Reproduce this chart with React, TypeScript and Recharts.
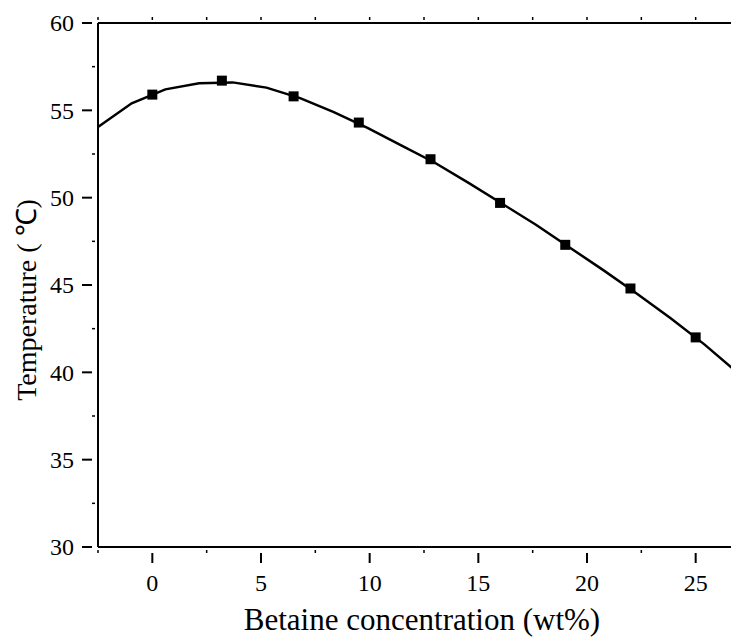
import React from "react";
import { ComposedChart, Line, Scatter, XAxis, YAxis, Label } from "recharts";

// Measured points (betaine wt%, temperature °C)
const pointX = [0, 3.2, 6.5, 9.5, 12.8, 16, 19, 22, 25];
const pointY = [55.9, 56.7, 55.8, 54.3, 52.2, 49.7, 47.3, 44.8, 42.0];

// Fitted curve
const curveX = [-2.5, -0.95, 0.6, 2.15, 3.7, 5.25, 6.8, 8.35, 9.9, 11.45, 13, 14.55, 16.1, 17.65, 19.2, 20.75, 22.3, 23.85, 25.4, 26.95, 27.5];
const curveY = [54.05, 55.4, 56.2, 56.55, 56.6, 56.3, 55.7, 54.9, 54.0, 53.0, 52.0, 50.85, 49.65, 48.45, 47.15, 45.85, 44.5, 43.1, 41.6, 39.95, 39.35];

const xTicks = [-2.5, 0, 2.5, 5, 7.5, 10, 12.5, 15, 17.5, 20, 22.5, 25, 27.5];
const yTicks = [30, 32.5, 35, 37.5, 40, 42.5, 45, 47.5, 50, 52.5, 55, 57.5, 60];

const xTitle = "Betaine concentration (wt%)";
const yTitle = "Temperature ( \u2103)";

const points = pointX.map((x, i) => ({ x, y: pointY[i] }));
const curve = curveX.map((x, i) => ({ x, y: curveY[i] }));

const FONT = "'Liberation Serif', 'Times New Roman', serif";
const tickTextStyle = { fontSize: 24, fontFamily: FONT };

const BottomTick = (props: any) => {
  const { x, y, payload } = props;
  const v = payload.value;
  const major = Math.abs(v % 5) < 1e-9;
  if (major) {
    return (
      <g>
        <line x1={x} x2={x} y1={y} y2={y + 10} stroke="#000" strokeWidth={2} />
        <text x={x} y={y + 38} textAnchor="middle" style={tickTextStyle} fill="#000">
          {v}
        </text>
      </g>
    );
  }
  return <line x1={x} x2={x} y1={y} y2={y - 3} stroke="#000" strokeWidth={1.5} />;
};

const TopTick = (props: any) => {
  const { x, y } = props;
  return <line x1={x} x2={x} y1={y} y2={y + 3} stroke="#000" strokeWidth={1.5} />;
};

const LeftTick = (props: any) => {
  const { x, y, payload } = props;
  const v = payload.value;
  const major = Math.abs(v % 5) < 1e-9;
  if (major) {
    return (
      <g>
        <line x1={x - 10} x2={x} y1={y} y2={y} stroke="#000" strokeWidth={2} />
        <text x={x - 18} y={y} dy="0.35em" textAnchor="end" style={tickTextStyle} fill="#000">
          {v}
        </text>
      </g>
    );
  }
  return <line x1={x} x2={x + 3} y1={y} y2={y} stroke="#000" strokeWidth={1.5} />;
};

const SquareDot = (props: any) => {
  const { cx, cy } = props;
  return <rect x={cx - 5} y={cy - 5} width={10} height={10} fill="#000" />;
};

export default function App() {
  return (
    <div style={{ width: 731, height: 630, overflow: "hidden" }}>
      <ComposedChart width={742} height={630} margin={{ top: 0, right: 0, bottom: 0, left: 0 }}>
        <XAxis
          xAxisId="t"
          orientation="top"
          type="number"
          dataKey="x"
          domain={[-2.5, 27.5]}
          ticks={xTicks}
          interval={0}
          allowDataOverflow
          height={15}
          tickLine={false}
          tickMargin={0}
          tick={<TopTick />}
          axisLine={{ stroke: "#000", strokeWidth: 2 }}
        />
        <XAxis
          xAxisId="b"
          orientation="bottom"
          type="number"
          dataKey="x"
          domain={[-2.5, 27.5]}
          ticks={xTicks}
          interval={0}
          allowDataOverflow
          height={91}
          tickLine={false}
          tickMargin={0}
          tick={<BottomTick />}
          axisLine={{ stroke: "#000", strokeWidth: 2 }}
        >
          <Label
            content={() => (
              <text x={414} y={622} textAnchor="middle" style={{ fontSize: 31, fontFamily: FONT }} fill="#000">
                {xTitle}
              </text>
            )}
          />
        </XAxis>
        <YAxis
          type="number"
          domain={[30, 60]}
          ticks={yTicks}
          interval={0}
          allowDataOverflow
          width={90}
          tickLine={false}
          tickMargin={0}
          tick={<LeftTick />}
          axisLine={{ stroke: "#000", strokeWidth: 2 }}
        >
          <Label
            content={() => (
              <text
                x={18}
                y={292}
                transform="rotate(-90, 18, 292)"
                textAnchor="middle"
                dominantBaseline="central"
                style={{ fontSize: 28, fontFamily: FONT }}
                fill="#000"
              >
                {yTitle}
              </text>
            )}
          />
        </YAxis>
        <Line
          xAxisId="b"
          data={curve}
          dataKey="y"
          type="linear"
          stroke="#000"
          strokeWidth={2.5}
          dot={false}
          activeDot={false}
          isAnimationActive={false}
        />
        <Scatter
          xAxisId="b"
          data={points}
          dataKey="y"
          shape={<SquareDot />}
          isAnimationActive={false}
        />
      </ComposedChart>
    </div>
  );
}
